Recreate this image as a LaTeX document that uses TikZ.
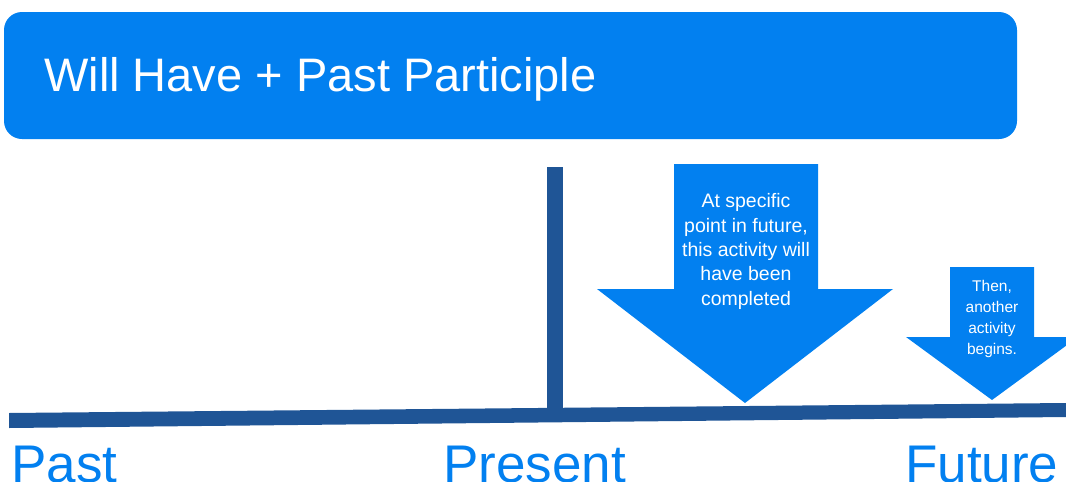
\documentclass[tikz,border=0pt]{standalone}
\usepackage{fontspec}
\setmainfont{Liberation Sans}
\definecolor{lightblue}{RGB}{2,128,240}
\definecolor{darkblue}{RGB}{31,85,150}
\begin{document}
\begin{tikzpicture}[x=1pt,y=-1pt,
  titlebox/.style={fill=lightblue, rounded corners=18pt, draw=none},
  bar/.style={fill=darkblue, draw=none},
  arrowshape/.style={fill=lightblue, draw=none},
  arrowtext/.style={text=white, align=center, inner sep=0pt},
  timelabel/.style={text=lightblue, anchor=base west, inner sep=0pt, font=\fontsize{53}{60}\selectfont}]
\useasboundingbox (0,0) rectangle (1066,482);
\clip (0,0) rectangle (1066,482);
% title
\fill[titlebox] (4,12) rectangle (1017,139);
\node[anchor=base west, inner sep=0pt, text=white, font=\fontsize{47}{54}\selectfont] (title) at (44,91) {Will Have + Past Participle};
% timeline
\fill[bar] (9,413) -- (1066,403) -- (1066,417) -- (9,428) -- cycle;
\fill[bar] (547,167) rectangle (563,414);
\coordinate (presentmark) at (555,167);
% big arrow
\fill[arrowshape] (674,164) -- (818,164) -- (818,289) -- (893,289) -- (745,403) -- (597,289) -- (674,289) -- cycle;
\node[arrowtext, font=\fontsize{19.5}{24.3}\selectfont] (bigtext) at (746,251.5) {At specific\\point in future,\\this activity will\\have been\\completed};
% small arrow
\fill[arrowshape] (950,267) -- (1034,267) -- (1034,337) -- (1078,337) -- (992,400) -- (906,337) -- (950,337) -- cycle;
\node[arrowtext, font=\fontsize{15.5}{20.7}\selectfont] (smalltext) at (992,319) {Then,\\another\\activity\\begins.};
% labels
\node[timelabel] (past) at (11,482) {Past};
\node[timelabel] (present) at (443,482) {Present};
\node[timelabel] (future) at (905,482) {Future};
\end{tikzpicture}
\end{document}
